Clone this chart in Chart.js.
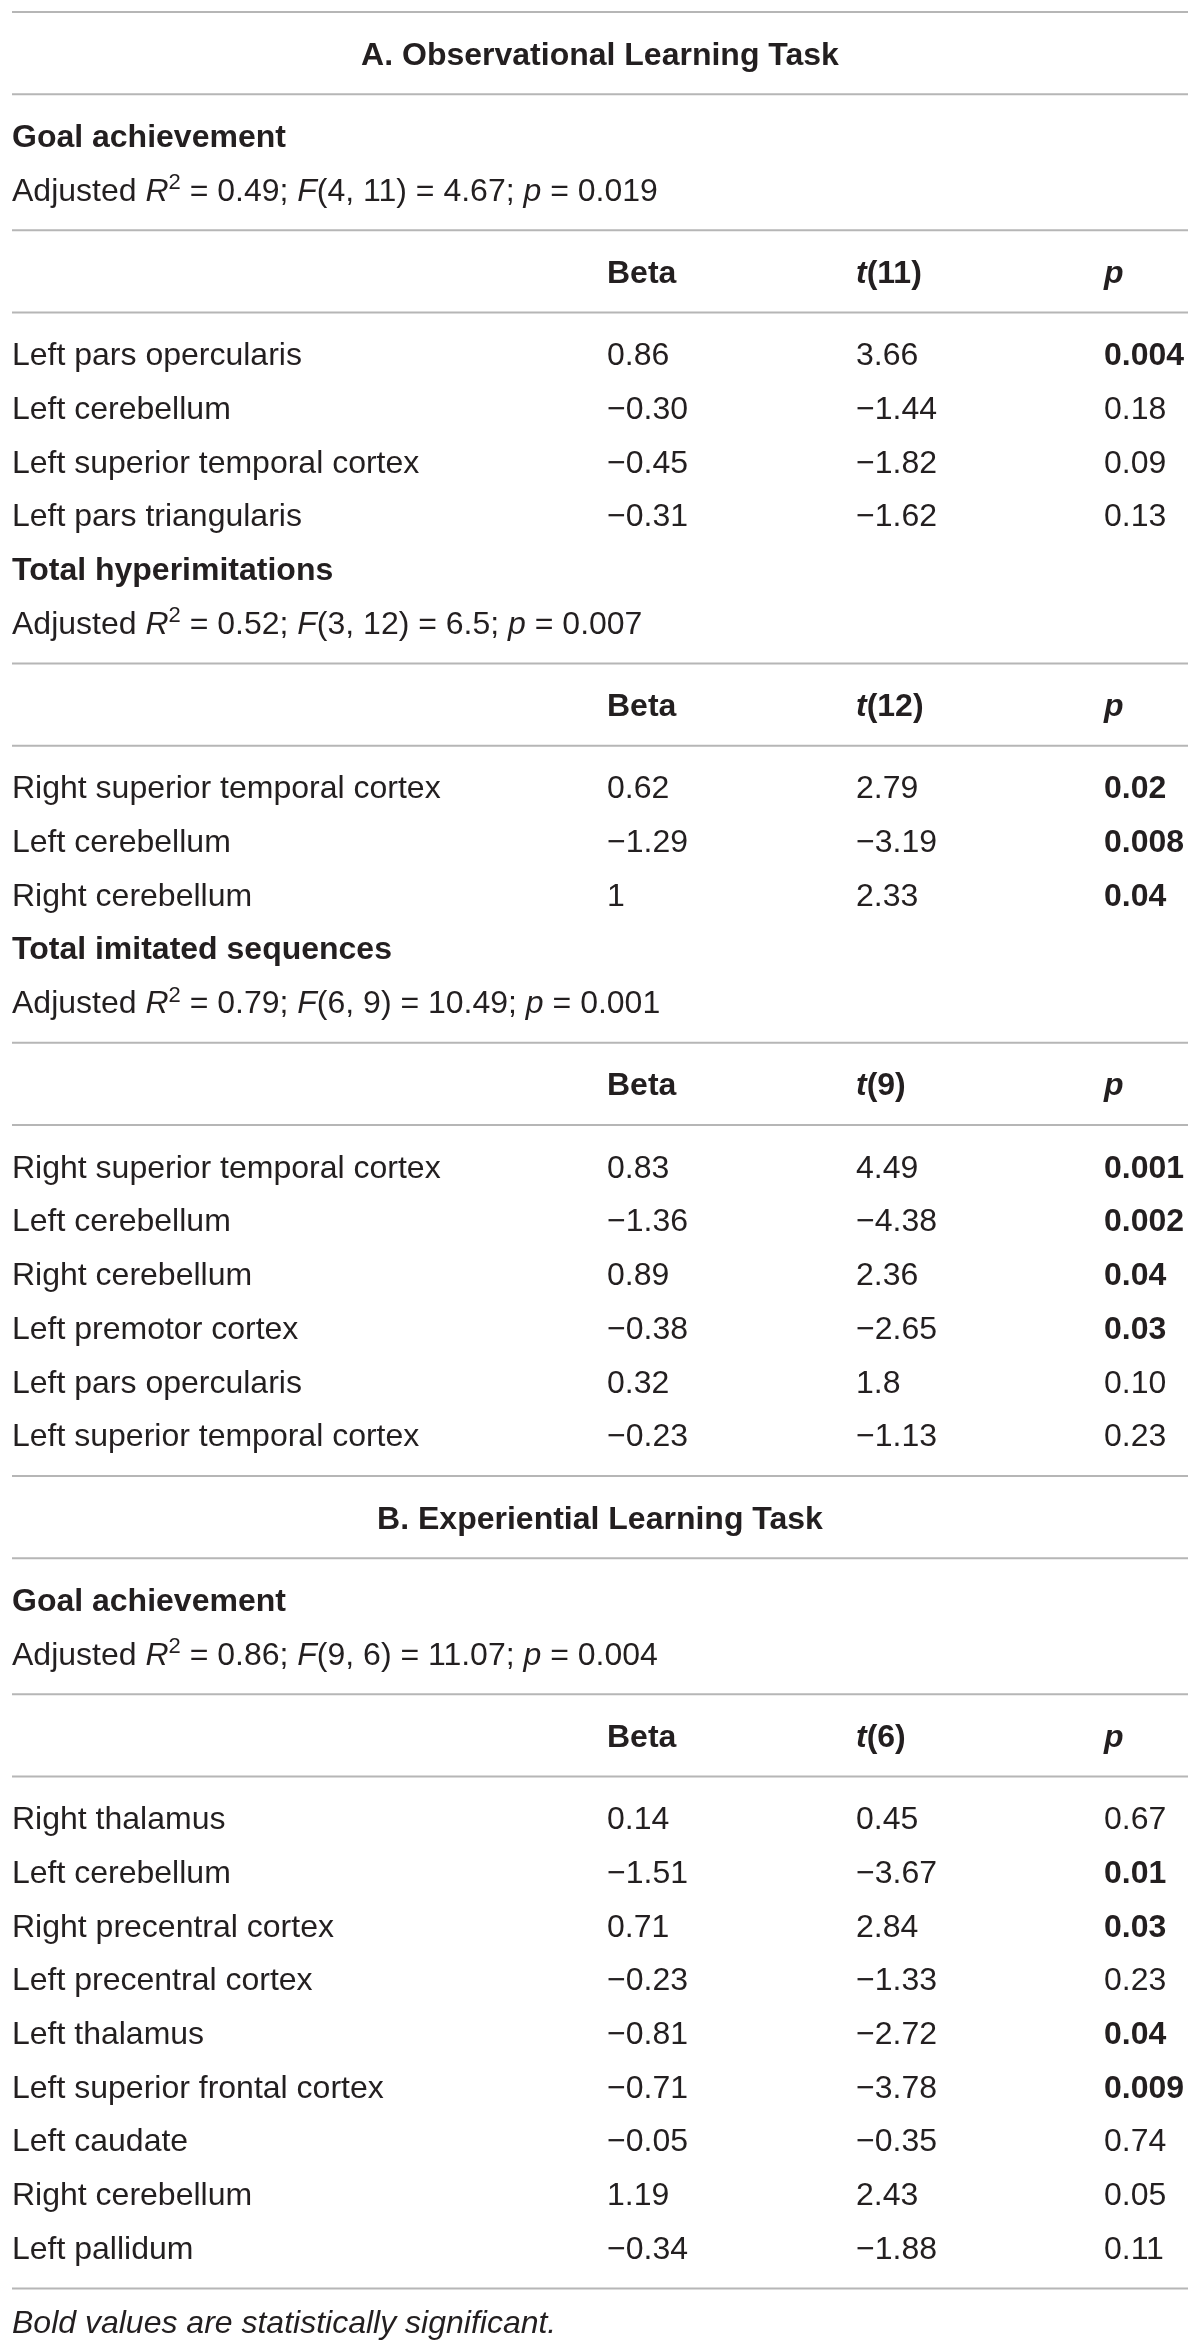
<!DOCTYPE html>
<html>
<head>
<meta charset="utf-8">
<script src="https://cdn.jsdelivr.net/npm/chart.js@4.4.1/dist/chart.umd.min.js"></script>
<style>
    html, body { margin: 0; padding: 0; background: #ffffff; }
    #wrap { width: 1200px; height: 2349px; }
</style>
</head>
<body>
<div id="wrap"><canvas id="regressionTable" width="1200" height="2349"></canvas></div>
<script>
// --- table content ---
// *...* = italic, ^...^ = superscript
const panelTitles = ['A. Observational Learning Task', 'B. Experiential Learning Task'];

const modelNames = ['Goal achievement', 'Total hyperimitations', 'Total imitated sequences', 'Goal achievement'];
const modelPanel = [0, 0, 0, 1];
const modelR2 = ['0.49', '0.52', '0.79', '0.86'];
const modelFdf = ['4, 11', '3, 12', '6, 9', '9, 6'];
const modelF = ['4.67', '6.5', '10.49', '11.07'];
const modelP = ['0.019', '0.007', '0.001', '0.004'];
const modelTdf = ['11', '12', '9', '6'];

const columnHeaders = ['Beta', '*t*(#)', '*p*'];

const regions1 = ['Left pars opercularis', 'Left cerebellum', 'Left superior temporal cortex', 'Left pars triangularis'];
const beta1 = ['0.86', '−0.30', '−0.45', '−0.31'];
const t1 = ['3.66', '−1.44', '−1.82', '−1.62'];
const p1 = ['0.004', '0.18', '0.09', '0.13'];
const sig1 = [true, false, false, false];

const regions2 = ['Right superior temporal cortex', 'Left cerebellum', 'Right cerebellum'];
const beta2 = ['0.62', '−1.29', '1'];
const t2 = ['2.79', '−3.19', '2.33'];
const p2 = ['0.02', '0.008', '0.04'];
const sig2 = [true, true, true];

const regions3 = ['Right superior temporal cortex', 'Left cerebellum', 'Right cerebellum', 'Left premotor cortex', 'Left pars opercularis', 'Left superior temporal cortex'];
const beta3 = ['0.83', '−1.36', '0.89', '−0.38', '0.32', '−0.23'];
const t3 = ['4.49', '−4.38', '2.36', '−2.65', '1.8', '−1.13'];
const p3 = ['0.001', '0.002', '0.04', '0.03', '0.10', '0.23'];
const sig3 = [true, true, true, true, false, false];

const regions4 = ['Right thalamus', 'Left cerebellum', 'Right precentral cortex', 'Left precentral cortex', 'Left thalamus', 'Left superior frontal cortex', 'Left caudate', 'Right cerebellum', 'Left pallidum'];
const beta4 = ['0.14', '−1.51', '0.71', '−0.23', '−0.81', '−0.71', '−0.05', '1.19', '−0.34'];
const t4 = ['0.45', '−3.67', '2.84', '−1.33', '−2.72', '−3.78', '−0.35', '2.43', '−1.88'];
const p4 = ['0.67', '0.01', '0.03', '0.23', '0.04', '0.009', '0.74', '0.05', '0.11'];
const sig4 = [false, true, true, false, true, true, false, false, false];

const footnote = '*Bold values are statistically significant.*';

// --- look ---
const FONT = "'Liberation Sans', Arial, Helvetica, sans-serif";
const FONT_SIZE = 32;
const TEXT_COLOR = '#231f20';
const RULE_COLOR = '#b6b6b6';
const ROW_PX = 53.7;
const RULE_PX = 28.6;
const TOP_RULE_PX = 12;
const LEFT_X = 12;
const RIGHT_X = 1188;
const CENTER_X = 600;
const COL_X = [12, 607, 856, 1104];

// --- layout in row units ---
const RULE_H = RULE_PX / ROW_PX;
let cursor = 0;
const cells = [];
const rules = [];

function addRule() {
    rules.push(cursor + RULE_H / 2);
    cursor += RULE_H;
}

function addRow(items, h = 1) {
    const y = cursor + h / 2;
    items.forEach(it => cells.push({ x: it.x, y: y, text: it.text, bold: !!it.bold, align: it.align || 'left' }));
    cursor += h;
}

const modelRows = [
    [regions1, beta1, t1, p1, sig1],
    [regions2, beta2, t2, p2, sig2],
    [regions3, beta3, t3, p3, sig3],
    [regions4, beta4, t4, p4, sig4]
];

addRule();
modelNames.forEach((name, m) => {
    if (m === 0 || modelPanel[m] !== modelPanel[m - 1]) {
        if (m > 0) addRule();
        addRow([{ x: CENTER_X, text: panelTitles[modelPanel[m]], bold: true, align: 'center' }]);
        addRule();
    }
    addRow([{ x: COL_X[0], text: name, bold: true }]);
    addRow([{ x: COL_X[0], text: `Adjusted *R*^2^ = ${modelR2[m]}; *F*(${modelFdf[m]}) = ${modelF[m]}; *p* = ${modelP[m]}` }]);
    addRule();
    addRow(columnHeaders.map((h, c) => ({ x: COL_X[c + 1], text: h.replace('#', modelTdf[m]), bold: true })));
    addRule();
    const [regions, beta, t, p, sig] = modelRows[m];
    regions.forEach((r, i) => {
        addRow([
            { x: COL_X[0], text: r },
            { x: COL_X[1], text: beta[i] },
            { x: COL_X[2], text: t[i] },
            { x: COL_X[3], text: p[i], bold: sig[i] }
        ]);
    });
});
addRule();
addRow([{ x: COL_X[0], text: footnote }], 0.7);

// --- rich text drawing ---
function parseRich(str) {
    const segs = [];
    let italic = false, sup = false, buf = '';
    for (const ch of str) {
        if (ch === '*' || ch === '^') {
            if (buf) segs.push({ text: buf, italic, sup });
            buf = '';
            if (ch === '*') italic = !italic; else sup = !sup;
        } else {
            buf += ch;
        }
    }
    if (buf) segs.push({ text: buf, italic, sup });
    return segs;
}

function fontFor(seg, bold) {
    const size = seg.sup ? Math.round(FONT_SIZE * 0.68) : FONT_SIZE;
    return `${seg.italic ? 'italic ' : ''}${bold ? 'bold ' : ''}${size}px ${FONT}`;
}

function drawRich(ctx, cell, x, y) {
    const segs = parseRich(cell.text);
    let total = 0;
    segs.forEach(s => {
        ctx.font = fontFor(s, cell.bold);
        s.w = ctx.measureText(s.text).width;
        total += s.w;
    });
    let cx = cell.align === 'center' ? x - total / 2 : x;
    const baseline = y + FONT_SIZE * 0.36;
    segs.forEach(s => {
        ctx.font = fontFor(s, cell.bold);
        ctx.fillText(s.text, cx, s.sup ? baseline - FONT_SIZE * 0.36 : baseline);
        cx += s.w;
    });
}

const tableText = {
    id: 'tableText',
    afterDatasetsDraw(chart) {
        const idx = chart.data.datasets.findIndex(d => d.label === 'cells');
        const meta = chart.getDatasetMeta(idx);
        const data = chart.data.datasets[idx].data;
        const ctx = chart.ctx;
        ctx.save();
        ctx.fillStyle = TEXT_COLOR;
        ctx.textAlign = 'left';
        ctx.textBaseline = 'alphabetic';
        meta.data.forEach((pt, i) => drawRich(ctx, data[i], pt.x, pt.y));
        ctx.restore();
    }
};

const canvas = document.getElementById('regressionTable');
const yMin = RULE_H / 2 - TOP_RULE_PX / ROW_PX;
const yMax = yMin + canvas.height / ROW_PX;

const datasets = rules.map(r => ({
    label: 'rule',
    data: [{ x: LEFT_X, y: r }, { x: RIGHT_X, y: r }],
    showLine: true,
    borderColor: RULE_COLOR,
    borderWidth: 2,
    pointRadius: 0,
    pointHoverRadius: 0
}));
datasets.push({
    label: 'cells',
    data: cells,
    showLine: false,
    pointRadius: 0,
    pointHoverRadius: 0
});

new Chart(canvas.getContext('2d'), {
    type: 'scatter',
    data: { datasets: datasets },
    options: {
        responsive: false,
        animation: false,
        events: [],
        layout: { padding: 0 },
        plugins: {
            legend: { display: false },
            tooltip: { enabled: false },
            title: { display: false }
        },
        scales: {
            x: { type: 'linear', min: 0, max: canvas.width, display: false },
            y: { type: 'linear', min: yMin, max: yMax, reverse: true, display: false }
        }
    },
    plugins: [tableText]
});
</script>
</body>
</html>
